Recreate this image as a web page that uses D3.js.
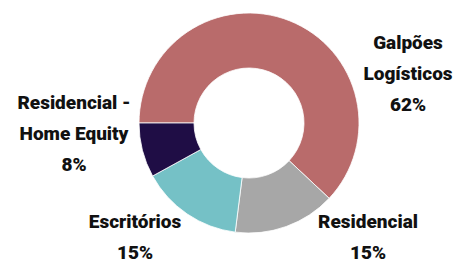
<!DOCTYPE html>
<html>
<head>
<meta charset="utf-8">
<script src="https://cdn.jsdelivr.net/npm/d3@7"></script>
<style>
	html, body { margin: 0; padding: 0; background: #fff; }
	svg { display: block; }
	text { font-family: Roboto, 'Open Sans', sans-serif; font-weight: 900; fill: #111; }
</style>
</head>
<body>
<svg></svg>
<script>
'use strict'

let categories = ['Galpões Logísticos', 'Residencial', 'Escritórios', 'Residencial - Home Equity']
let shares = [62, 15, 15, 8]
let colors = ['#b96b6b', '#a7a7a7', '#75c1c6', '#1f0d45']
let labelLines = [
	['Galpões', 'Logísticos', '62%'],
	['Residencial', '15%'],
	['Escritórios', '15%'],
	['Residencial -', 'Home Equity', '8%']
]

let width = 456,
	height = 259

let svg = d3.select('svg')
	.attr('width', width)
	.attr('height', height)

let cx = 249, cy = 123
let outerR = 110, innerR = 55

// where each label block sits (centre of first line), relative to the donut centre
let labelAnchor = [
	[159, -81],
	[119, 98],
	[-114, 98],
	[-175, -21]
]
let lineGap = 31

let pie = d3.pie()
	.sort(null)
	.value(function(d) { return d })
	.startAngle(-Math.PI / 2)
	.endAngle(Math.PI * 1.5)

let arc = d3.arc()
	.innerRadius(innerR)
	.outerRadius(outerR)

let g = svg.append('g')
	.attr('transform', 'translate(' + cx + ',' + cy + ')')

g.selectAll('path')
	.data(pie(shares))
	.enter().append('path')
	.attr('d', arc)
	.attr('fill', function(d, i) { return colors[i] })
	.attr('stroke', '#fff')
	.attr('stroke-width', 0.8)

let labels = g.selectAll('text')
	.data(categories)
	.enter().append('text')
	.attr('text-anchor', 'middle')
	.attr('font-size', 19)
	.attr('dominant-baseline', 'central')
	.attr('x', function(d, i) { return labelAnchor[i][0] })
	.attr('y', function(d, i) { return labelAnchor[i][1] })

labels.selectAll('tspan')
	.data(function(d, i) { return labelLines[i] })
	.enter().append('tspan')
	.attr('x', function() { return d3.select(this.parentNode).attr('x') })
	.attr('dy', function(d, j) { return j === 0 ? 0 : lineGap })
	.text(function(d) { return d })
</script>
</body>
</html>
